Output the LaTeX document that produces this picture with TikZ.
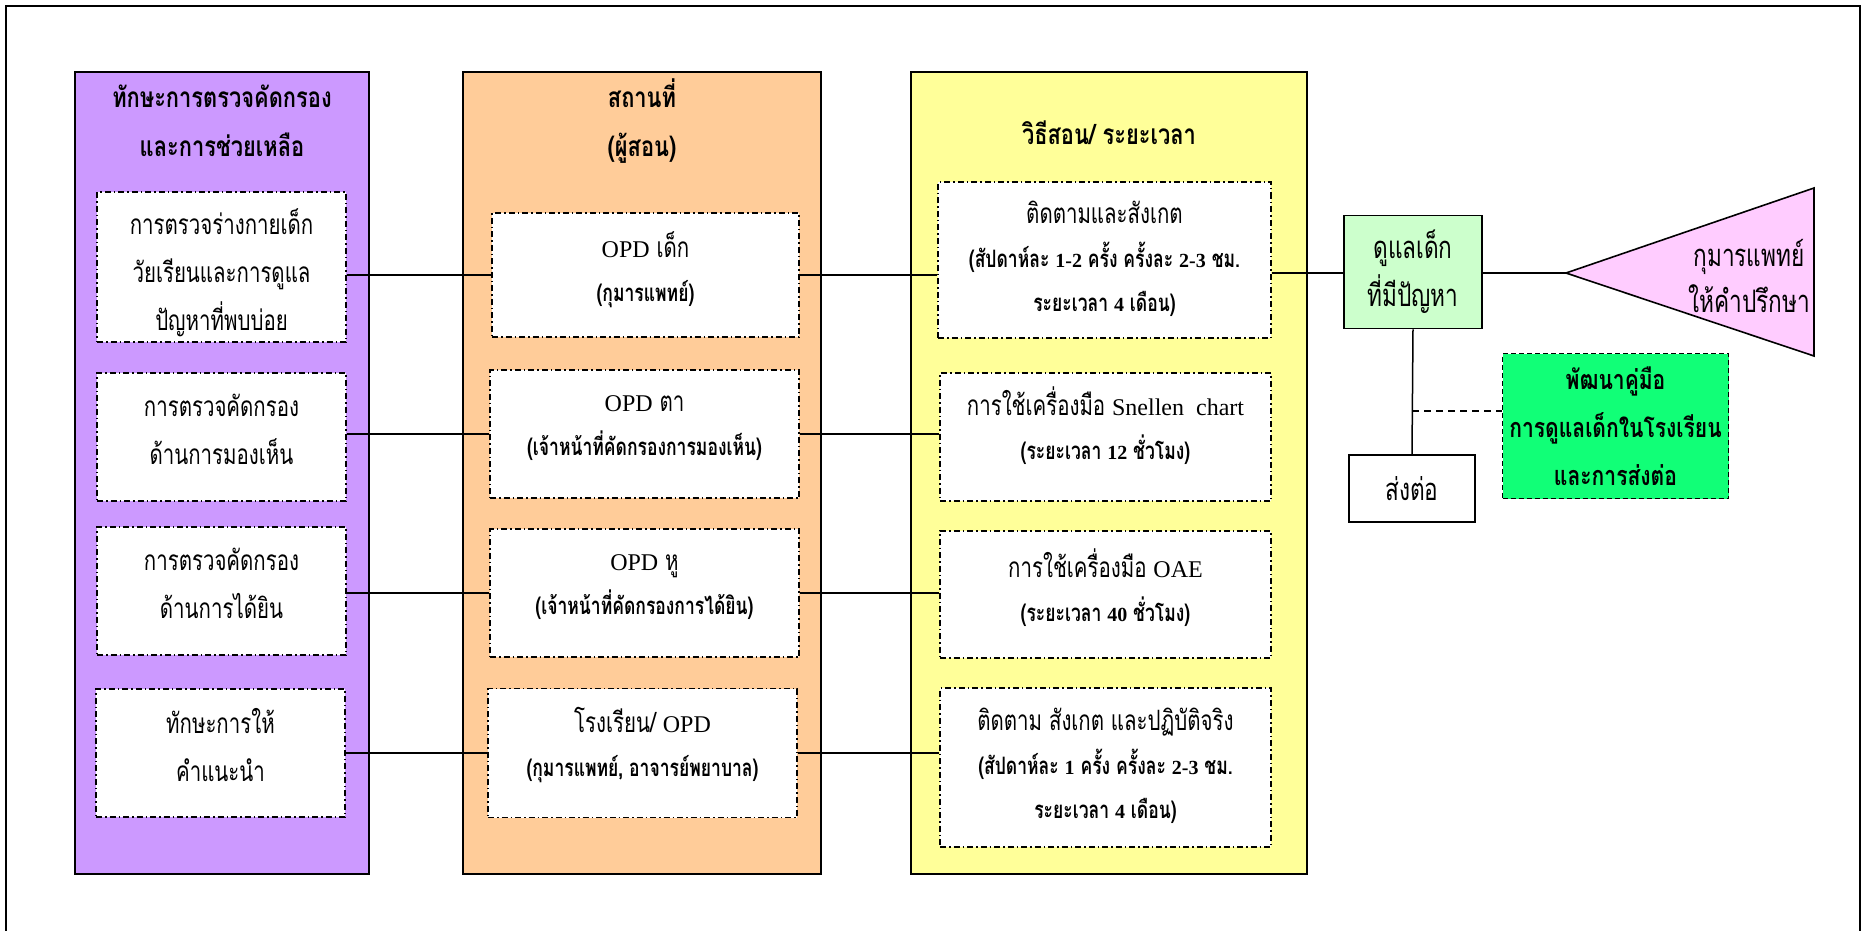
\documentclass[tikz,border=0pt]{standalone}
\usepackage{fontspec}
\setmainfont{Liberation Serif}
\newfontfamily\thr[Script=Thai,FakeStretch=0.73]{Loma}
\newfontfamily\tht[Script=Thai,FakeStretch=0.78]{Loma}
\newcommand{\en}[1]{{\rmfamily\fontsize{24}{47}\selectfont #1}}
\newcommand{\enb}[1]{{\rmfamily\fontsize{20}{44}\selectfont\bfseries #1}}
\newcommand{\bl}[1]{{\fontsize{24}{44}\selectfont\bfseries #1}}
\definecolor{cpurple}{HTML}{CC99FF}
\definecolor{corange}{HTML}{FFCC99}
\definecolor{cyellow}{HTML}{FFFF99}
\definecolor{cgreenl}{HTML}{CCFFCC}
\definecolor{cpink}{HTML}{FFCCFF}
\definecolor{cgreenb}{HTML}{11FF77}
\begin{document}
\begin{tikzpicture}[x=1pt,y=-1pt,
  sz/.style 2 args={minimum width=#1pt,minimum height=#2pt},
  col/.style={draw=black,line width=1.8pt,inner sep=0pt},
  ttl/.style={align=center,inner sep=0pt,font=\tht\fontsize{28}{49}\selectfont\bfseries},
  ibox/.style={draw=black,fill=white,line width=1.3pt,dash pattern=on 6pt off 3pt on 1.5pt off 3pt,inner sep=0pt},
  txt/.style={align=center,inner sep=0pt,font=\thr\fontsize{28}{48}\selectfont},
  mtxt/.style={align=center,inner sep=0pt,font=\thr\fontsize{28}{44}\selectfont},
  sbox/.style={draw=black,line width=1.6pt,inner sep=0pt,align=center,font=\thr\fontsize{31}{48}\selectfont},
  conn/.style={line width=1.5pt}]
\useasboundingbox (0,0) rectangle (1864,931);
\clip (0,0) rectangle (1864,931);
\draw[line width=2pt] (6,960) -- (6,6) -- (1860,6) -- (1860,960);

% columns
\node[col,fill=cpurple,sz={294}{802}] (cp) at (222,473) {};
\node[col,fill=corange,sz={358}{802}] (co) at (642,473) {};
\node[col,fill=cyellow,sz={396}{802}] (cy) at (1109,473) {};
\node[ttl] (tp) at (222,121) {ทักษะการตรวจคัดกรอง\\และการช่วยเหลือ};
\node[ttl] (to) at (642,121) {สถานที่\\(ผู้สอน)};
\node[ttl] (ty) at (1109,133) {วิธีสอน/ ระยะเวลา};

% left boxes
\node[ibox,sz={249}{150}] (l1) at (221.5,267) {};
\node[ibox,sz={249}{128}] (l2) at (221.5,437) {};
\node[ibox,sz={249}{128}] (l3) at (221.5,591) {};
\node[ibox,sz={249}{128}] (l4) at (220.5,753) {};
\node[txt] (l1t) at (221.5,272.5) {การตรวจร่างกายเด็ก\\วัยเรียนและการดูแล\\ปัญหาที่พบบ่อย};
\node[txt] (l2t) at (221.5,429) {การตรวจคัดกรอง\\ด้านการมองเห็น};
\node[txt] (l3t) at (221.5,583) {การตรวจคัดกรอง\\ด้านการได้ยิน};
\node[txt] (l4t) at (220.5,744.5) {ทักษะการให้\\คำแนะนำ};

% orange boxes
\node[ibox,sz={307}{124}] (o1) at (645.5,275) {};
\node[ibox,sz={309}{128}] (o2) at (644.5,434) {};
\node[ibox,sz={309}{128}] (o3) at (644.5,593) {};
\node[ibox,sz={309}{129}] (o4) at (642.5,753) {};
\node[mtxt] (o1t) at (645.5,269.5) {\en{OPD} เด็ก\\\bl{(กุมารแพทย์)}};
\node[mtxt] (o2t) at (644.5,428.5) {\en{OPD} ตา\\\bl{(เจ้าหน้าที่คัดกรองการมองเห็น)}};
\node[mtxt] (o3t) at (644.5,587.5) {\en{OPD} หู\\\bl{(เจ้าหน้าที่คัดกรองการได้ยิน)}};
\node[mtxt] (o4t) at (642.5,745.5) {โรงเรียน/ \en{OPD}\\\bl{(กุมารแพทย์, อาจารย์พยาบาล)}};

% yellow boxes
\node[ibox,sz={333}{156}] (y1) at (1104.5,260) {};
\node[ibox,sz={331}{128}] (y2) at (1105.5,437) {};
\node[ibox,sz={331}{127}] (y3) at (1105.5,594.5) {};
\node[ibox,sz={331}{159}] (y4) at (1105.5,767.5) {};
\node[mtxt] (y1t) at (1104.5,258.5) {ติดตามและสังเกต\\\bl{(สัปดาห์ละ \enb{1-2} ครั้ง ครั้งละ \enb{2-3} ชม.}\\\bl{ระยะเวลา \enb{4} เดือน)}};
\node[mtxt] (y2t) at (1105.5,425.5) {การใช้เครื่องมือ \en{Snellen\ \ chart}\\\bl{(ระยะเวลา \enb{12} ชั่วโมง)}};
\node[mtxt] (y3t) at (1105.5,587.5) {การใช้เครื่องมือ \en{OAE}\\\bl{(ระยะเวลา \enb{40} ชั่วโมง)}};
\node[mtxt] (y4t) at (1105.5,765.5) {ติดตาม สังเกต และปฏิบัติจริง\\\bl{(สัปดาห์ละ \enb{1} ครั้ง ครั้งละ \enb{2-3} ชม.}\\\bl{ระยะเวลา \enb{4} เดือน)}};

% right part
\node[sbox,fill=cgreenl,sz={137.5}{113}] (g) at (1413,272) {ดูแลเด็ก\\ที่มีปัญหา};
\node[sbox,fill=white,sz={126}{67}] (s) at (1412,488.5) {ส่งต่อ};
\node[draw=black,line width=1.4pt,dash pattern=on 5pt off 3pt,fill=cgreenb,sz={226}{145},inner sep=0pt,align=center,font=\tht\fontsize{27}{48}\selectfont\bfseries] (b) at (1615.5,426) {พัฒนาคู่มือ\\การดูแลเด็กในโรงเรียน\\และการส่งต่อ};
\coordinate (tip) at (1566,273);
\coordinate (ttop) at (1814,188);
\coordinate (tbot) at (1814,356);
\draw[line width=1.6pt,fill=cpink] (tip) -- (ttop) -- (tbot) -- cycle;
\node[align=center,inner sep=0pt,font=\thr\fontsize{31}{46}\selectfont] (tt) at (1749,276) {กุมารแพทย์\\ให้คำปรึกษา};

% connectors
\foreach \i in {1,2,3,4}{
  \draw[conn] (l\i.east |- o\i.west) -- (o\i.west);
  \draw[conn] (o\i.east) -- (y\i.west |- o\i.east);
}
\draw[conn] (y1.east |- tip) -- (g.west |- tip);
\draw[conn] (g.east |- tip) -- (tip);
\draw[conn] (g.south) -- (s.north);
\coordinate (j) at (1412,411);
\draw[conn,dash pattern=on 7pt off 5pt] (j) -- (j -| b.west);
\end{tikzpicture}
\end{document}
